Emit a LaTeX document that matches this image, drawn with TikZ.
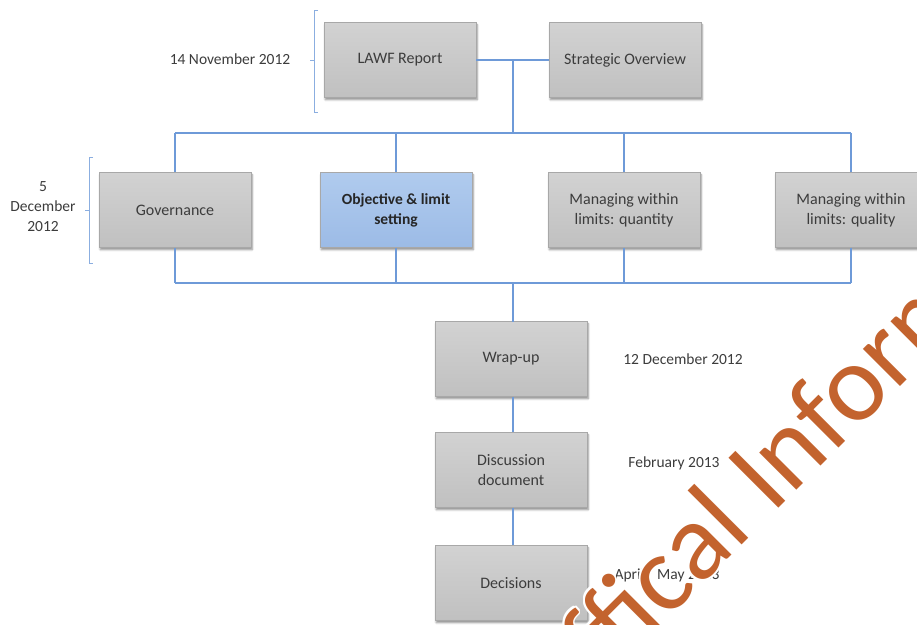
\documentclass[tikz,border=0pt]{standalone}
\usepackage{fontspec}
\setmainfont{Carlito}
\newfontfamily\markfont{Carlito}
\usetikzlibrary{shadows.blur}

\definecolor{boxtop}{HTML}{D2D2D2}
\definecolor{boxbot}{HTML}{C0C0C0}
\definecolor{boxedge}{HTML}{A8A8A8}
\definecolor{boxbluetop}{HTML}{B0CBEE}
\definecolor{boxbluebot}{HTML}{9CBBE6}
\definecolor{linkblue}{HTML}{6E9AD8}
\definecolor{inkgray}{HTML}{3C3C3C}
\definecolor{stampcol}{HTML}{C3632E}

\tikzset{
  stage/.style={rectangle, minimum width=152pt, minimum height=75pt,
    inner sep=2pt, align=center, text=inkgray,
    top color=boxtop, bottom color=boxbot, draw=boxedge, line width=0.6pt,
    blur shadow={shadow xshift=1.2pt, shadow yshift=-2.2pt,
      shadow blur steps=6, shadow opacity=45},
    font=\fontsize{16}{20}\selectfont},
  keystage/.style={stage, top color=boxbluetop, bottom color=boxbluebot,
    text=black!85, font=\fontsize{15.5}{20}\selectfont\bfseries},
  link/.style={draw=linkblue, line width=1.3pt},
  brace/.style={draw=linkblue!80, line width=1pt},
  datelabel/.style={text=inkgray, align=center, inner sep=0pt,
    font=\fontsize{15.5}{20}\selectfont},
  stamp/.style={inner sep=0pt, text=stampcol,
    font=\markfont\fontsize{110}{120}\selectfont},
  stamphalo/.style={stamp, text=white},
}

\begin{document}
\begin{tikzpicture}[x=1pt, y=-1pt]
\useasboundingbox (0,0) rectangle (917,624);
\begin{scope}
\clip (0,0) rectangle (917,624);

% first meeting
\node[stage] (lawf)  at (400,60) {LAWF Report};
\node[stage] (strat) at (625,60) {Strategic Overview};

% second meeting: four workstreams
\node[stage]    (gov)  at (175,210) {Governance};
\node[keystage] (obj)  at (396,210) {Objective \& limit\\setting};
\node[stage]    (qty)  at (624,210) {Managing within\\limits: quantity};
\node[stage]    (qual) at (851,210) {Managing within\\limits: quality};

% follow-up stages
\node[stage] (wrap) at (511,359) {Wrap-up};
\node[stage] (disc) at (511,470) {Discussion\\document};
\node[stage] (dec)  at (511,583) {Decisions};

% junctions of the connectors
\coordinate (j1)   at (513,60);
\coordinate (bus1) at (513,133);
\coordinate (bus2) at (513,283);
\coordinate (w1)   at (513,322);

\draw[link] (lawf.east) -- (strat.west);
\draw[link] (j1) -- (bus1);
\draw[link] (gov.north |- bus1) -- (qual.north |- bus1);
\foreach \n in {gov,obj,qty,qual} {
  \draw[link] (\n.north |- bus1) -- (\n.north);
  \draw[link] (\n.south) -- (\n.south |- bus2);
}
\draw[link] (gov.south |- bus2) -- (qual.south |- bus2);
\draw[link] (bus2) -- (w1);
\draw[link] (wrap.south -| w1) -- (disc.north -| w1);
\draw[link] (disc.south -| w1) -- (dec.north -| w1);

% date brackets
\coordinate (b1t) at (314,10);
\coordinate (b1b) at (314,112);
\coordinate (b1m) at (314,60);
\draw[brace] ([xshift=4pt]b1t) -- (b1t) -- (b1b) -- ([xshift=4pt]b1b);
\draw[brace] (b1m) -- ++(-4,0);
\coordinate (b2t) at (89,157);
\coordinate (b2b) at (89,263);
\coordinate (b2m) at (89,210);
\draw[brace] ([xshift=4pt]b2t) -- (b2t) -- (b2b) -- ([xshift=4pt]b2b);
\draw[brace] (b2m) -- ++(-4,0);

% dates
\node[datelabel] (d1) at (230,59)  {14 November 2012};
\node[datelabel] (d2) at (43,207)  {5\\December\\2012};
\node[datelabel] (d3) at (683,359) {12 December 2012};
\node[datelabel] (d4) at (674,463) {February 2013};
\node[datelabel] (d5) at (667,575) {April / May 2013};

% release stamp running diagonally up to the right, with a thin white halo
\begin{scope}[shift={(772,515)}, rotate=45, transform shape]
  \foreach \dx/\dy in {2/0,-2/0,0/2,0/-2,1.4/1.4,-1.4/1.4,1.4/-1.4,-1.4/-1.4} {
    \node[stamphalo, anchor=base west] at (\dx,\dy) {Information};
    \node[stamphalo, anchor=base east] at (-25+\dx,\dy) {Offical};
  }
  \node[stamp, anchor=base west] (stampb) at (0,0) {Information};
  \node[stamp, anchor=base east] (stampa) at (-25,0) {Offical};
\end{scope}
\end{scope}
\end{tikzpicture}
\end{document}
